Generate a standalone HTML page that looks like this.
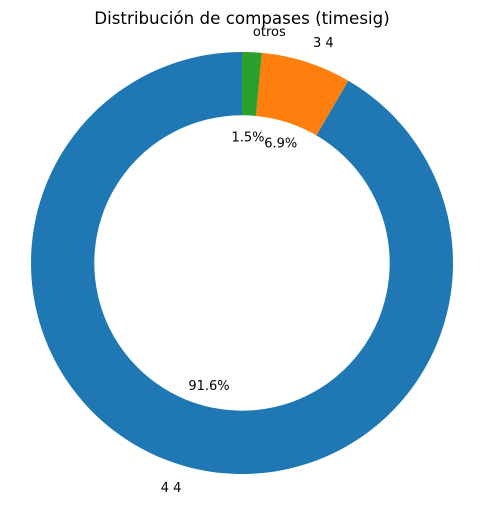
<!DOCTYPE html>
<html><head><meta charset="utf-8"><style>body{margin:0;background:#fff}svg{display:block}text{font-family:"DejaVu Sans","Liberation Sans",sans-serif}</style></head>
<body>
<svg id="chart" width="484" height="505" viewBox="0 0 484 505">
<text x="242" y="24" text-anchor="middle" font-size="16.7">Distribución de compases (timesig)</text>
<g id="slices"></g>
</svg>
<script>
const categories = ["4 4", "3 4", "otros"];
const values = [91.6, 6.9, 1.5];
const colors = ["#1f77b4", "#ff7f0e", "#2ca02c"];
const cx = 242, cy = 263, R = 211, r = 147.7, startAngle = 90;
const ns = "http://www.w3.org/2000/svg";
const g = document.getElementById("slices");
const total = values.reduce((a, b) => a + b, 0);
function pt(rad, deg) { const a = deg * Math.PI / 180; return [cx + rad * Math.cos(a), cy - rad * Math.sin(a)]; }
let ang = startAngle;
values.forEach((v, i) => {
  const sweep = v / total * 360, a0 = ang, a1 = ang + sweep;
  const large = sweep > 180 ? 1 : 0;
  const [x0, y0] = pt(R, a0), [x1, y1] = pt(R, a1), [x2, y2] = pt(r, a1), [x3, y3] = pt(r, a0);
  const p = document.createElementNS(ns, "path");
  p.setAttribute("d", `M${x0},${y0} A${R},${R} 0 ${large} 0 ${x1},${y1} L${x2},${y2} A${r},${r} 0 ${large} 1 ${x3},${y3} Z`);
  p.setAttribute("fill", colors[i]);
  
  
  g.appendChild(p);
  const mid = (a0 + a1) / 2;
  const [lx, ly] = pt(R * 1.1, mid);
  const t = document.createElementNS(ns, "text");
  t.setAttribute("x", lx); t.setAttribute("y", ly + 5);
  t.setAttribute("text-anchor", Math.cos(mid * Math.PI / 180) >= 0 ? "start" : "end");
  t.setAttribute("font-size", "13");
  t.textContent = categories[i];
  
  
  g.appendChild(t);
  const [px, py] = pt(R * 0.6, mid);
  const tp = document.createElementNS(ns, "text");
  tp.setAttribute("x", px); tp.setAttribute("y", py + 5);
  tp.setAttribute("text-anchor", "middle");
  tp.setAttribute("font-size", "13");
  tp.textContent = v.toFixed(1) + "%";
  
  
  g.appendChild(tp);
  ang = a1;
});
</script>
</body></html>
